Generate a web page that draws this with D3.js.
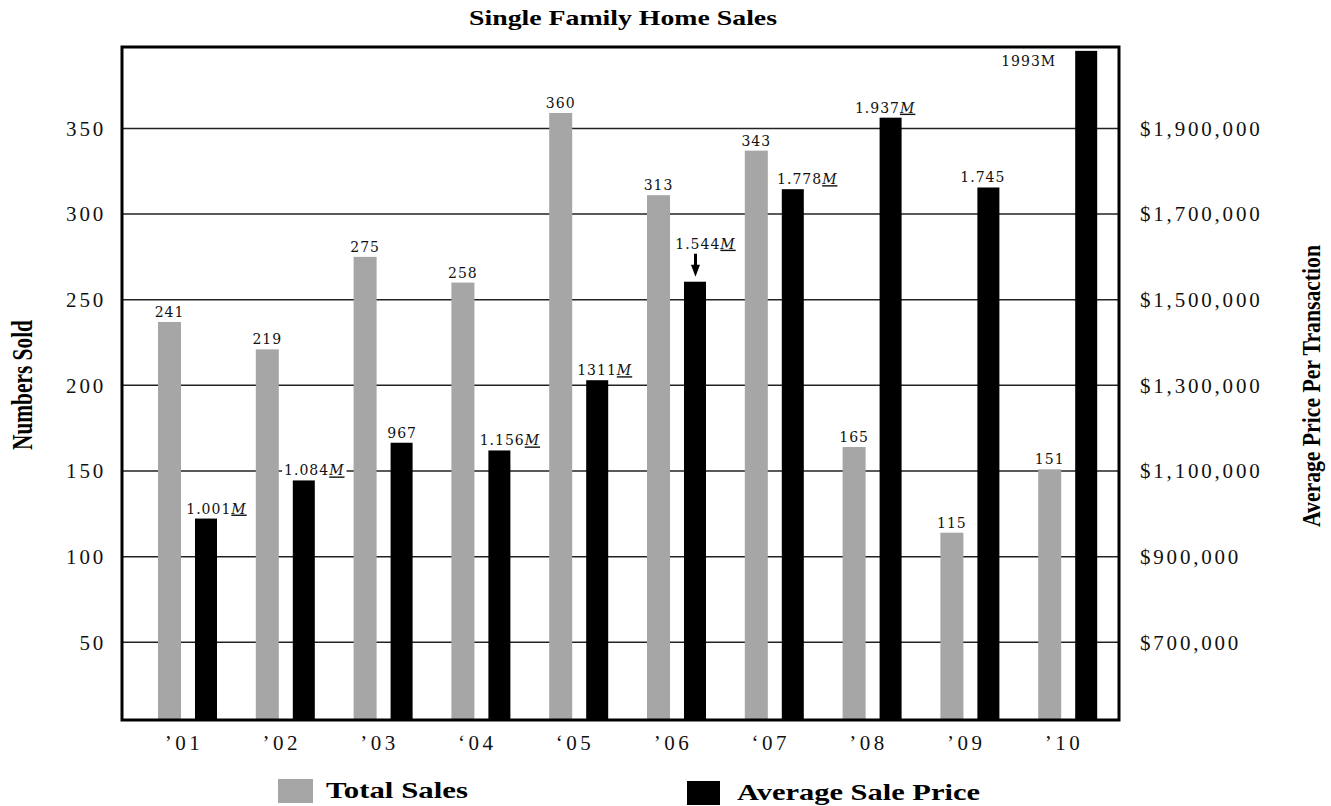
<!DOCTYPE html>
<html><head><meta charset="utf-8">
<script src="https://cdn.jsdelivr.net/npm/d3@7"></script>
<style>body{margin:0;background:#fff}</style>
</head><body>
<svg id="c" width="1331" height="806"></svg>
<script>
// ---- data ----
const years = ["2001","2002","2003","2004","2005","2006","2007","2008","2009","2010"];
const yearLabels = ["’01","’02","’03","‘04","‘05","’06","‘07","’08","’09","’10"];
const totalSales = [237,221,275,260,359,311,337,164,114,151];
const salesLabels = ["241","219","275","258","360","313","343","165","115","151"];
const avgPrice = [989000,1078000,1166000,1148000,1312000,1542000,1758000,1925000,1762000,2081000];
const priceLabels = ["1.001","1.084","967","1.156","1311","1.544","1.778","1.937","1.745","1993"];
const priceSuffix = ["M","M","","M","M","M","M","M","","M"];
const suffixItalic = [true,true,false,true,true,true,true,true,false,false];
const leftTicks = [50,100,150,200,250,300,350];
const rightTicks = [700000,900000,1100000,1300000,1500000,1700000,1900000];
const seriesNames = ["Total Sales","Average Sale Price"];
const seriesColors = ["#a6a6a6","#000000"];
// label layout tweaks (pixels)
const priceLabelShift = [10,10,0,10,7,10,14,-6,-6,-58];
const priceLabelLift = [5,5,5,5,5,33,5,5,5,-15];
const arrowIndex = 5;

// ---- layout ----
const plot = {l:122, r:1119, t:47, b:720};
const svg = d3.select("#c");
const serif = "'DejaVu Serif', serif";
const times = "'Liberation Serif', 'Times New Roman', serif";

const x0 = d3.scaleBand().domain(years).range([139,1117]).paddingInner(0).paddingOuter(0);
const x1 = d3.scaleBand().domain(["sales","price"]).range([19,79]).paddingInner(0.378);
const yL = d3.scaleLinear().domain([4.67,397.5]).range([plot.b, plot.t]);
const yR = d3.scaleLinear().domain([518680,2090000]).range([plot.b, plot.t]);

// gridlines
svg.append("g").selectAll("line").data(leftTicks).join("line")
  .attr("x1",plot.l).attr("x2",plot.r)
  .attr("y1",d=>yL(d)).attr("y2",d=>yL(d))
  .attr("stroke","#222").attr("stroke-width",1.5);

// bars
const g = svg.append("g");
g.selectAll("rect.s").data(years).join("rect").attr("class","s")
  .attr("x",d=>x0(d)+x1("sales")).attr("width",x1.bandwidth())
  .attr("y",(d,i)=>yL(totalSales[i])).attr("height",(d,i)=>plot.b-yL(totalSales[i]))
  .attr("fill",seriesColors[0]);
g.selectAll("rect.p").data(years).join("rect").attr("class","p")
  .attr("x",d=>x0(d)+x1("price")).attr("width",x1.bandwidth()-1)
  .attr("y",(d,i)=>yR(avgPrice[i])).attr("height",(d,i)=>plot.b-yR(avgPrice[i]))
  .attr("fill",seriesColors[1]);

// sales labels
g.selectAll("text.sl").data(years).join("text").attr("class","sl")
  .attr("x",d=>x0(d)+x1("sales")+x1.bandwidth()/2)
  .attr("y",(d,i)=>yL(totalSales[i])-5)
  .attr("text-anchor","middle").attr("font-family",serif).attr("font-size",14)
  .attr("letter-spacing",1).attr("fill","#111")
  .text((d,i)=>salesLabels[i]);

// price labels
const pl = svg.append("g");
years.forEach((d,i)=>{
  const cx = x0(d)+x1("price")+x1.bandwidth()/2 + priceLabelShift[i];
  const yb = yR(avgPrice[i]) - priceLabelLift[i];
  const grp = pl.append("g");
  const bg = grp.append("rect").attr("fill","#fff");
  const t = grp.append("text").attr("x",cx).attr("y",yb)
    .attr("text-anchor","middle").attr("font-family",serif).attr("font-size",14)
    .attr("letter-spacing",1).attr("fill","#111");
  t.append("tspan").text(priceLabels[i]);
  if (priceSuffix[i]) {
    const s = t.append("tspan").text(priceSuffix[i]);
    if (suffixItalic[i]) s.attr("font-style","italic").attr("text-decoration","underline");
  }
  const bb = t.node().getBBox();
  bg.attr("x",bb.x-2).attr("y",bb.y).attr("width",bb.width+4).attr("height",bb.height);
});

// arrow for 2006
{
  const ax = x0(years[arrowIndex])+x1("price")+x1.bandwidth()/2;
  const top = yR(avgPrice[arrowIndex]);
  svg.append("line").attr("x1",ax).attr("x2",ax).attr("y1",top-28).attr("y2",top-14)
    .attr("stroke","#000").attr("stroke-width",3);
  svg.append("path").attr("d",`M${ax-4.5},${top-17}L${ax+4.5},${top-17}L${ax},${top-5}Z`).attr("fill","#000");
}

// plot border
svg.append("rect").attr("x",plot.l).attr("y",plot.t)
  .attr("width",plot.r-plot.l).attr("height",plot.b-plot.t)
  .attr("fill","none").attr("stroke","#000").attr("stroke-width",3);

// axes
const styleTicks = sel => {
  sel.select(".domain").remove();
  sel.selectAll("text").attr("font-family",times).attr("font-size",21)
    .attr("letter-spacing",2.8).attr("fill","#111");
};
svg.append("g").attr("transform",`translate(${plot.l},0)`)
  .call(d3.axisLeft(yL).tickValues(leftTicks).tickSize(0).tickPadding(16))
  .call(styleTicks);
svg.append("g").attr("transform",`translate(${plot.r},0)`)
  .call(d3.axisRight(yR).tickValues(rightTicks).tickSize(0).tickPadding(21).tickFormat(d3.format("$,")))
  .call(styleTicks);
svg.append("g").attr("transform",`translate(0,${plot.b})`)
  .call(d3.axisBottom(x0).tickSize(0).tickFormat((d,i)=>yearLabels[i]))
  .call(styleTicks)
  .call(s=>s.selectAll("text").attr("y",30).attr("dy",0).attr("dx",-4).attr("letter-spacing",3.5));

// titles
svg.append("text").attr("x",623).attr("y",25).attr("text-anchor","middle")
  .attr("font-family",times).attr("font-weight","bold").attr("font-size",22)
  .attr("textLength",308).attr("lengthAdjust","spacingAndGlyphs")
  .text("Single Family Home Sales");
svg.append("text").attr("transform","translate(32,385) rotate(-90)").attr("text-anchor","middle")
  .attr("font-family",times).attr("font-weight","bold").attr("font-size",29)
  .attr("textLength",130).attr("lengthAdjust","spacingAndGlyphs")
  .text("Numbers Sold");
svg.append("text").attr("transform","translate(1320,386) rotate(-90)").attr("text-anchor","middle")
  .attr("font-family",times).attr("font-weight","bold").attr("font-size",26)
  .attr("textLength",282).attr("lengthAdjust","spacingAndGlyphs")
  .text("Average Price Per Transaction");

// legend
const legendPos = [{rx:278,ry:779,rw:35,tx:326,ty:798,tl:142},{rx:687,ry:781,rw:33,tx:737,ty:800,tl:243}];
seriesNames.forEach((n,i)=>{
  const p = legendPos[i];
  svg.append("rect").attr("x",p.rx).attr("y",p.ry).attr("width",p.rw).attr("height",24).attr("fill",seriesColors[i]);
  svg.append("text").attr("x",p.tx).attr("y",p.ty).attr("font-family",times).attr("font-weight","bold")
    .attr("font-size",23).attr("textLength",p.tl).attr("lengthAdjust","spacingAndGlyphs").text(n);
});
</script>
</body></html>
